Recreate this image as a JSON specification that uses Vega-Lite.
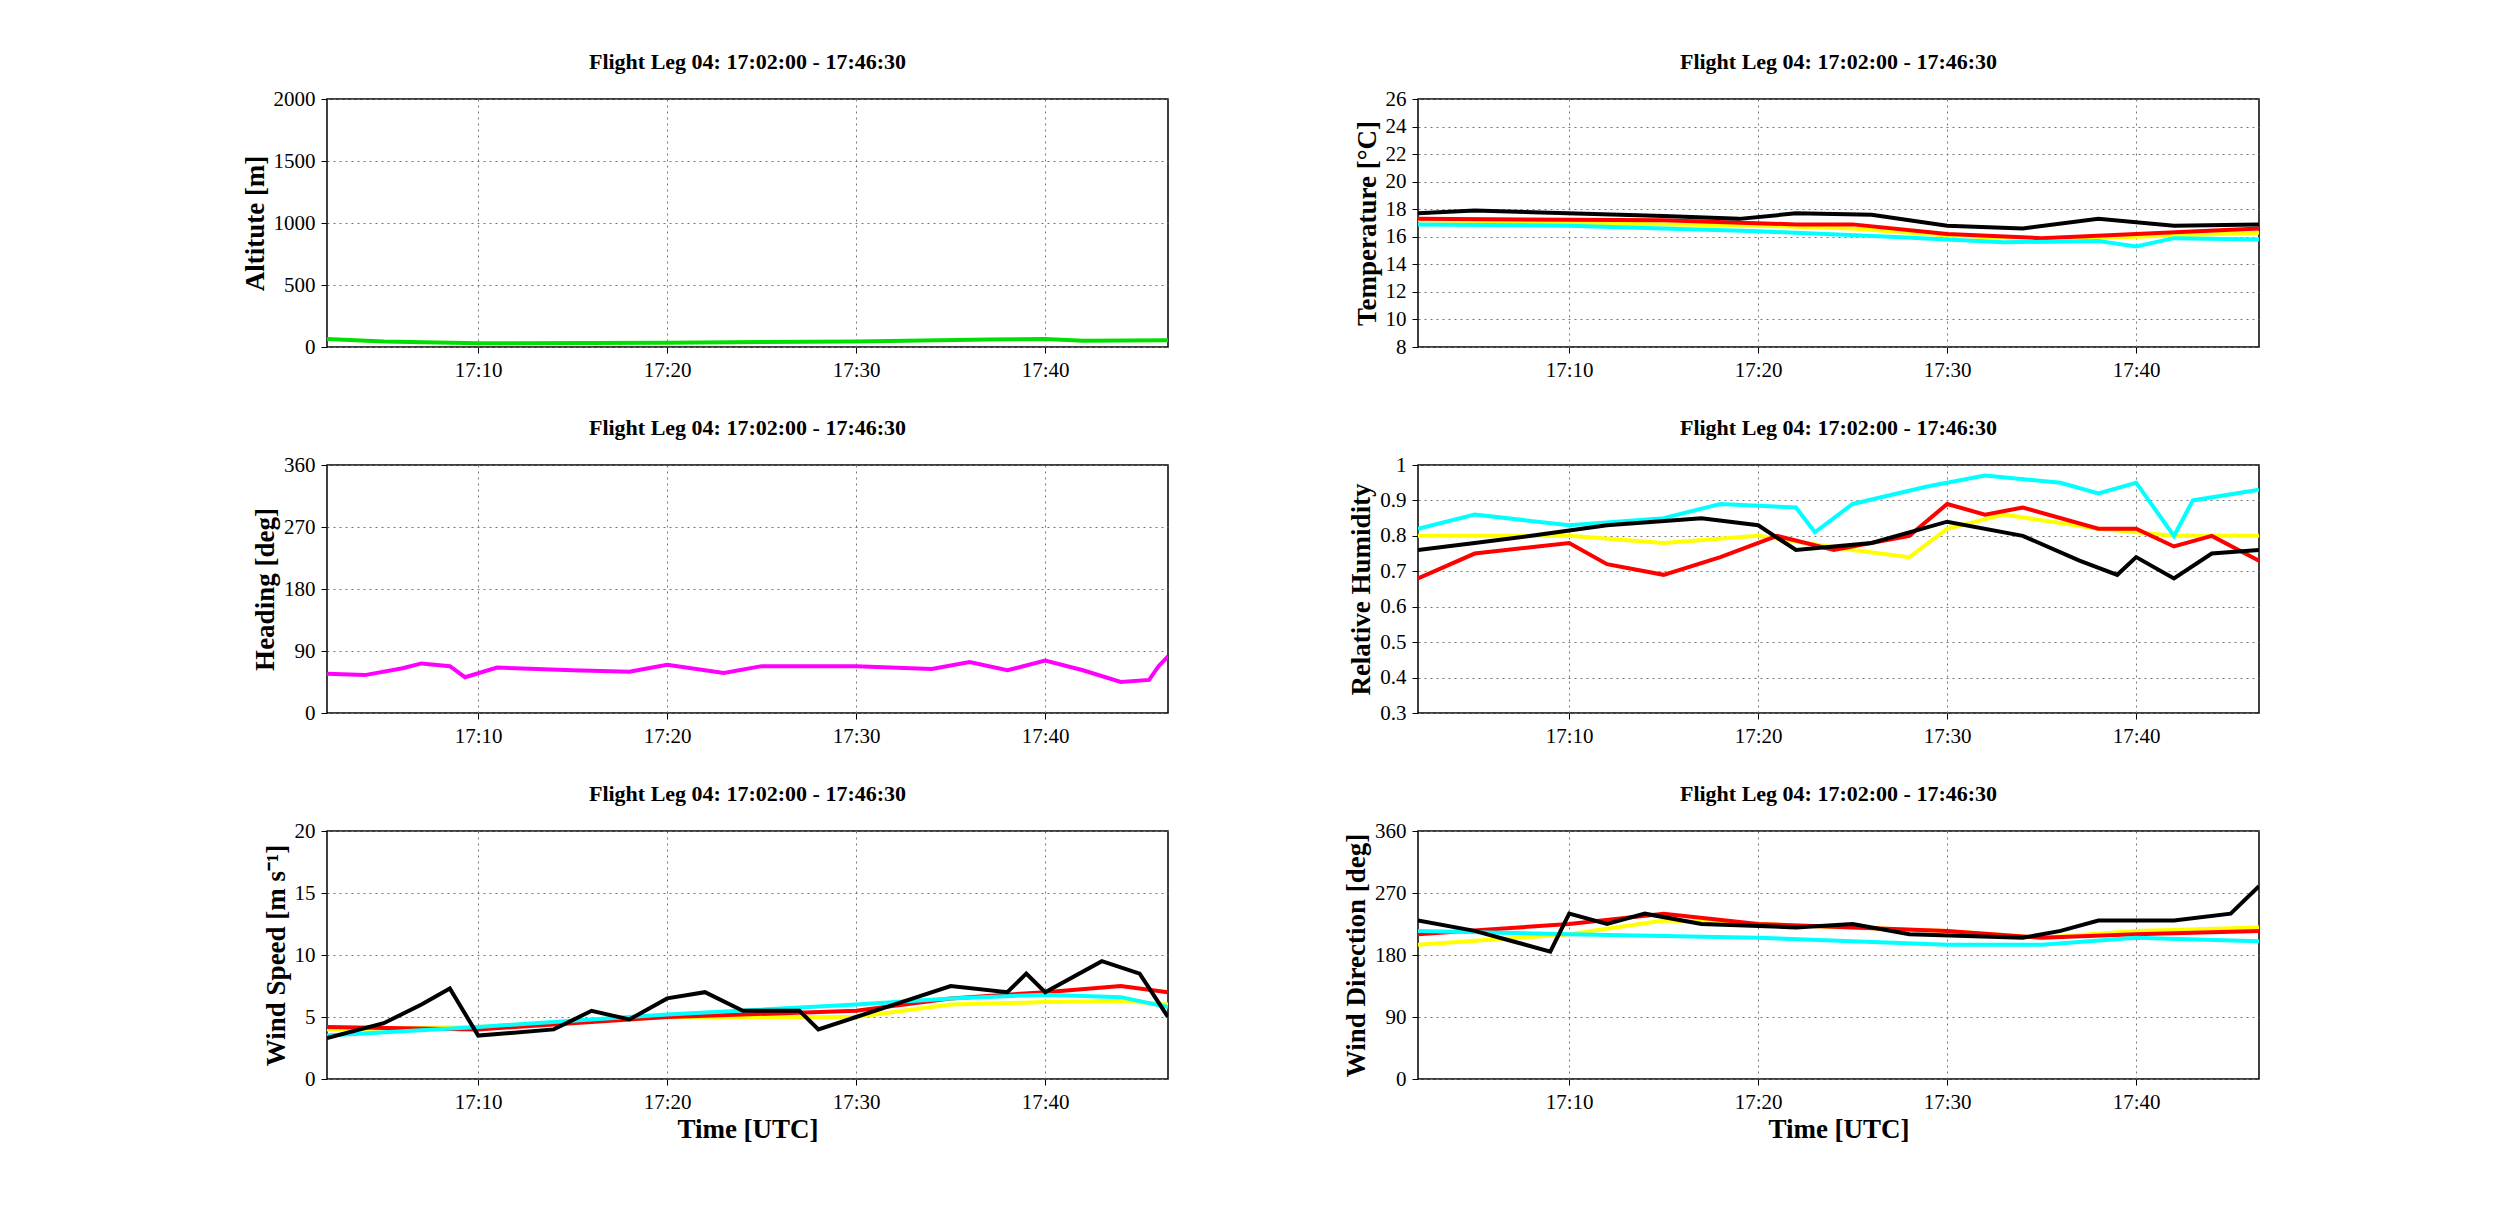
{
  "$schema": "https://vega.github.io/schema/vega-lite/v6.json",
  "background": "white",
  "padding": {"left": 240, "top": 50, "right": 10, "bottom": 10},
  "spacing": {"row": 35, "column": 172},
  "config": {
    "font": "Liberation Serif",
    "view": {"stroke": "black", "strokeWidth": 1.5},
    "title": {"fontSize": 22, "fontWeight": "bold", "font": "Liberation Serif", "offset": 14},
    "axis": {"labelFont": "Liberation Serif", "titleFont": "Liberation Serif", "labelFontSize": 21, "titleFontSize": 27, "titleFontWeight": "bold", "gridDash": [2, 4], "gridColor": "#777", "gridOpacity": 1, "domain": false, "tickColor": "black", "tickSize": 6, "labelColor": "black", "titleColor": "black", "labelPadding": 6, "format": "~r"},
    "line": {"strokeWidth": 4}
  },
  "data": {"values": [
    {"p":"alt","s":"green","t":2,"v":65},{"p":"alt","s":"green","t":5,"v":45},{"p":"alt","s":"green","t":10,"v":30},{"p":"alt","s":"green","t":20,"v":35},{"p":"alt","s":"green","t":30,"v":45},{"p":"alt","s":"green","t":37,"v":60},{"p":"alt","s":"green","t":40,"v":65},{"p":"alt","s":"green","t":42,"v":50},{"p":"alt","s":"green","t":46.5,"v":55},
    {"p":"hdg","s":"magenta","t":2,"v":57},{"p":"hdg","s":"magenta","t":4,"v":55},{"p":"hdg","s":"magenta","t":6,"v":65},{"p":"hdg","s":"magenta","t":7,"v":72},{"p":"hdg","s":"magenta","t":8.5,"v":68},{"p":"hdg","s":"magenta","t":9.3,"v":52},{"p":"hdg","s":"magenta","t":11,"v":66},{"p":"hdg","s":"magenta","t":15,"v":62},{"p":"hdg","s":"magenta","t":18,"v":60},{"p":"hdg","s":"magenta","t":20,"v":70},{"p":"hdg","s":"magenta","t":23,"v":58},{"p":"hdg","s":"magenta","t":25,"v":68},{"p":"hdg","s":"magenta","t":30,"v":68},{"p":"hdg","s":"magenta","t":34,"v":64},{"p":"hdg","s":"magenta","t":36,"v":74},{"p":"hdg","s":"magenta","t":38,"v":62},{"p":"hdg","s":"magenta","t":40,"v":76},{"p":"hdg","s":"magenta","t":42,"v":62},{"p":"hdg","s":"magenta","t":44,"v":45},{"p":"hdg","s":"magenta","t":45.5,"v":48},{"p":"hdg","s":"magenta","t":46,"v":68},{"p":"hdg","s":"magenta","t":46.5,"v":82},
    {"p":"tmp","s":"yellow","t":2,"v":17.2},{"p":"tmp","s":"yellow","t":10,"v":17.0},{"p":"tmp","s":"yellow","t":20,"v":16.8},{"p":"tmp","s":"yellow","t":25,"v":16.6},{"p":"tmp","s":"yellow","t":30,"v":16.1},{"p":"tmp","s":"yellow","t":35,"v":15.8},{"p":"tmp","s":"yellow","t":40,"v":16.0},{"p":"tmp","s":"yellow","t":46.5,"v":16.3},
    {"p":"tmp","s":"red","t":2,"v":17.3},{"p":"tmp","s":"red","t":15,"v":17.2},{"p":"tmp","s":"red","t":22,"v":16.9},{"p":"tmp","s":"red","t":25,"v":16.9},{"p":"tmp","s":"red","t":30,"v":16.2},{"p":"tmp","s":"red","t":35,"v":15.9},{"p":"tmp","s":"red","t":40,"v":16.2},{"p":"tmp","s":"red","t":46.5,"v":16.6},
    {"p":"tmp","s":"cyan","t":2,"v":16.9},{"p":"tmp","s":"cyan","t":10,"v":16.8},{"p":"tmp","s":"cyan","t":20,"v":16.4},{"p":"tmp","s":"cyan","t":27,"v":16.0},{"p":"tmp","s":"cyan","t":33,"v":15.6},{"p":"tmp","s":"cyan","t":38,"v":15.7},{"p":"tmp","s":"cyan","t":40,"v":15.3},{"p":"tmp","s":"cyan","t":42,"v":15.9},{"p":"tmp","s":"cyan","t":46.5,"v":15.8},
    {"p":"tmp","s":"black","t":2,"v":17.7},{"p":"tmp","s":"black","t":5,"v":17.9},{"p":"tmp","s":"black","t":15,"v":17.5},{"p":"tmp","s":"black","t":19,"v":17.3},{"p":"tmp","s":"black","t":22,"v":17.7},{"p":"tmp","s":"black","t":26,"v":17.6},{"p":"tmp","s":"black","t":30,"v":16.8},{"p":"tmp","s":"black","t":34,"v":16.6},{"p":"tmp","s":"black","t":38,"v":17.3},{"p":"tmp","s":"black","t":42,"v":16.8},{"p":"tmp","s":"black","t":46.5,"v":16.9},
    {"p":"rh","s":"yellow","t":2,"v":0.8},{"p":"rh","s":"yellow","t":10,"v":0.8},{"p":"rh","s":"yellow","t":15,"v":0.78},{"p":"rh","s":"yellow","t":20,"v":0.8},{"p":"rh","s":"yellow","t":25,"v":0.76},{"p":"rh","s":"yellow","t":28,"v":0.74},{"p":"rh","s":"yellow","t":30,"v":0.82},{"p":"rh","s":"yellow","t":33,"v":0.86},{"p":"rh","s":"yellow","t":38,"v":0.82},{"p":"rh","s":"yellow","t":42,"v":0.8},{"p":"rh","s":"yellow","t":46.5,"v":0.8},
    {"p":"rh","s":"red","t":2,"v":0.68},{"p":"rh","s":"red","t":5,"v":0.75},{"p":"rh","s":"red","t":10,"v":0.78},{"p":"rh","s":"red","t":12,"v":0.72},{"p":"rh","s":"red","t":15,"v":0.69},{"p":"rh","s":"red","t":18,"v":0.74},{"p":"rh","s":"red","t":21,"v":0.8},{"p":"rh","s":"red","t":24,"v":0.76},{"p":"rh","s":"red","t":28,"v":0.8},{"p":"rh","s":"red","t":30,"v":0.89},{"p":"rh","s":"red","t":32,"v":0.86},{"p":"rh","s":"red","t":34,"v":0.88},{"p":"rh","s":"red","t":38,"v":0.82},{"p":"rh","s":"red","t":40,"v":0.82},{"p":"rh","s":"red","t":42,"v":0.77},{"p":"rh","s":"red","t":44,"v":0.8},{"p":"rh","s":"red","t":46.5,"v":0.73},
    {"p":"rh","s":"cyan","t":2,"v":0.82},{"p":"rh","s":"cyan","t":5,"v":0.86},{"p":"rh","s":"cyan","t":10,"v":0.83},{"p":"rh","s":"cyan","t":15,"v":0.85},{"p":"rh","s":"cyan","t":18,"v":0.89},{"p":"rh","s":"cyan","t":22,"v":0.88},{"p":"rh","s":"cyan","t":23,"v":0.81},{"p":"rh","s":"cyan","t":25,"v":0.89},{"p":"rh","s":"cyan","t":29,"v":0.94},{"p":"rh","s":"cyan","t":32,"v":0.97},{"p":"rh","s":"cyan","t":36,"v":0.95},{"p":"rh","s":"cyan","t":38,"v":0.92},{"p":"rh","s":"cyan","t":40,"v":0.95},{"p":"rh","s":"cyan","t":42,"v":0.8},{"p":"rh","s":"cyan","t":43,"v":0.9},{"p":"rh","s":"cyan","t":46.5,"v":0.93},
    {"p":"rh","s":"black","t":2,"v":0.76},{"p":"rh","s":"black","t":5,"v":0.78},{"p":"rh","s":"black","t":8,"v":0.8},{"p":"rh","s":"black","t":12,"v":0.83},{"p":"rh","s":"black","t":17,"v":0.85},{"p":"rh","s":"black","t":20,"v":0.83},{"p":"rh","s":"black","t":22,"v":0.76},{"p":"rh","s":"black","t":26,"v":0.78},{"p":"rh","s":"black","t":30,"v":0.84},{"p":"rh","s":"black","t":34,"v":0.8},{"p":"rh","s":"black","t":37,"v":0.73},{"p":"rh","s":"black","t":39,"v":0.69},{"p":"rh","s":"black","t":40,"v":0.74},{"p":"rh","s":"black","t":42,"v":0.68},{"p":"rh","s":"black","t":44,"v":0.75},{"p":"rh","s":"black","t":46.5,"v":0.76},
    {"p":"ws","s":"yellow","t":2,"v":4.0},{"p":"ws","s":"yellow","t":10,"v":4.2},{"p":"ws","s":"yellow","t":20,"v":5.0},{"p":"ws","s":"yellow","t":30,"v":5.0},{"p":"ws","s":"yellow","t":35,"v":6.0},{"p":"ws","s":"yellow","t":40,"v":6.2},{"p":"ws","s":"yellow","t":44,"v":6.3},{"p":"ws","s":"yellow","t":46.5,"v":6.0},
    {"p":"ws","s":"red","t":2,"v":4.2},{"p":"ws","s":"red","t":10,"v":4.0},{"p":"ws","s":"red","t":20,"v":5.0},{"p":"ws","s":"red","t":30,"v":5.5},{"p":"ws","s":"red","t":35,"v":6.5},{"p":"ws","s":"red","t":40,"v":7.0},{"p":"ws","s":"red","t":44,"v":7.5},{"p":"ws","s":"red","t":46.5,"v":7.0},
    {"p":"ws","s":"cyan","t":2,"v":3.5},{"p":"ws","s":"cyan","t":10,"v":4.2},{"p":"ws","s":"cyan","t":20,"v":5.2},{"p":"ws","s":"cyan","t":30,"v":6.0},{"p":"ws","s":"cyan","t":35,"v":6.5},{"p":"ws","s":"cyan","t":40,"v":6.8},{"p":"ws","s":"cyan","t":44,"v":6.6},{"p":"ws","s":"cyan","t":46.5,"v":5.8},
    {"p":"ws","s":"black","t":2,"v":3.3},{"p":"ws","s":"black","t":5,"v":4.5},{"p":"ws","s":"black","t":7,"v":6.0},{"p":"ws","s":"black","t":8.5,"v":7.3},{"p":"ws","s":"black","t":10,"v":3.5},{"p":"ws","s":"black","t":14,"v":4.0},{"p":"ws","s":"black","t":16,"v":5.5},{"p":"ws","s":"black","t":18,"v":4.8},{"p":"ws","s":"black","t":20,"v":6.5},{"p":"ws","s":"black","t":22,"v":7.0},{"p":"ws","s":"black","t":24,"v":5.5},{"p":"ws","s":"black","t":27,"v":5.5},{"p":"ws","s":"black","t":28,"v":4.0},{"p":"ws","s":"black","t":30,"v":5.0},{"p":"ws","s":"black","t":32,"v":6.0},{"p":"ws","s":"black","t":35,"v":7.5},{"p":"ws","s":"black","t":38,"v":7.0},{"p":"ws","s":"black","t":39,"v":8.5},{"p":"ws","s":"black","t":40,"v":7.0},{"p":"ws","s":"black","t":43,"v":9.5},{"p":"ws","s":"black","t":45,"v":8.5},{"p":"ws","s":"black","t":46.5,"v":5.0},
    {"p":"wd","s":"yellow","t":2,"v":195},{"p":"wd","s":"yellow","t":10,"v":210},{"p":"wd","s":"yellow","t":15,"v":230},{"p":"wd","s":"yellow","t":20,"v":225},{"p":"wd","s":"yellow","t":30,"v":215},{"p":"wd","s":"yellow","t":35,"v":205},{"p":"wd","s":"yellow","t":40,"v":215},{"p":"wd","s":"yellow","t":46.5,"v":220},
    {"p":"wd","s":"red","t":2,"v":210},{"p":"wd","s":"red","t":10,"v":225},{"p":"wd","s":"red","t":15,"v":240},{"p":"wd","s":"red","t":20,"v":225},{"p":"wd","s":"red","t":30,"v":215},{"p":"wd","s":"red","t":35,"v":205},{"p":"wd","s":"red","t":40,"v":210},{"p":"wd","s":"red","t":46.5,"v":215},
    {"p":"wd","s":"cyan","t":2,"v":215},{"p":"wd","s":"cyan","t":10,"v":210},{"p":"wd","s":"cyan","t":20,"v":205},{"p":"wd","s":"cyan","t":30,"v":195},{"p":"wd","s":"cyan","t":35,"v":195},{"p":"wd","s":"cyan","t":40,"v":205},{"p":"wd","s":"cyan","t":46.5,"v":200},
    {"p":"wd","s":"black","t":2,"v":230},{"p":"wd","s":"black","t":5,"v":215},{"p":"wd","s":"black","t":7,"v":200},{"p":"wd","s":"black","t":9,"v":185},{"p":"wd","s":"black","t":10,"v":240},{"p":"wd","s":"black","t":12,"v":225},{"p":"wd","s":"black","t":14,"v":240},{"p":"wd","s":"black","t":17,"v":225},{"p":"wd","s":"black","t":22,"v":220},{"p":"wd","s":"black","t":25,"v":225},{"p":"wd","s":"black","t":28,"v":210},{"p":"wd","s":"black","t":34,"v":205},{"p":"wd","s":"black","t":36,"v":215},{"p":"wd","s":"black","t":38,"v":230},{"p":"wd","s":"black","t":42,"v":230},{"p":"wd","s":"black","t":45,"v":240},{"p":"wd","s":"black","t":46.5,"v":280}
  ]},
  "columns": 2,
  "concat": [
    {"title": "Flight Leg 04: 17:02:00 - 17:46:30", "width": 841, "height": 248, "transform": [{"filter": "datum.p == 'alt'"}], "mark": {"type": "line", "clip": true},
     "encoding": {"x": {"field": "t", "type": "quantitative", "scale": {"domain": [2, 46.5], "nice": false, "zero": false}, "axis": {"values": [10, 20, 30, 40], "labelExpr": "'17:' + datum.value", "title": null}},
      "y": {"field": "v", "type": "quantitative", "scale": {"domain": [0, 2000], "nice": false}, "axis": {"values": [0, 500, 1000, 1500, 2000], "format": "d", "title": "Altitute [m]"}},
      "color": {"field": "s", "type": "nominal", "scale": {"domain": ["green", "magenta", "yellow", "red", "cyan", "black"], "range": ["#00e000", "#ff00ff", "#ffff00", "#ff0000", "#00ffff", "#000000"]}, "legend": null}}},
    {"title": "Flight Leg 04: 17:02:00 - 17:46:30", "width": 841, "height": 248, "transform": [{"filter": "datum.p == 'tmp'"}], "mark": {"type": "line", "clip": true},
     "encoding": {"x": {"field": "t", "type": "quantitative", "scale": {"domain": [2, 46.5], "nice": false, "zero": false}, "axis": {"values": [10, 20, 30, 40], "labelExpr": "'17:' + datum.value", "title": null}},
      "y": {"field": "v", "type": "quantitative", "scale": {"domain": [8, 26], "nice": false, "zero": false}, "axis": {"values": [8, 10, 12, 14, 16, 18, 20, 22, 24, 26], "format": "d", "title": "Temperature [°C]"}},
      "color": {"field": "s", "type": "nominal", "legend": null}}},
    {"title": "Flight Leg 04: 17:02:00 - 17:46:30", "width": 841, "height": 248, "transform": [{"filter": "datum.p == 'hdg'"}], "mark": {"type": "line", "clip": true},
     "encoding": {"x": {"field": "t", "type": "quantitative", "scale": {"domain": [2, 46.5], "nice": false, "zero": false}, "axis": {"values": [10, 20, 30, 40], "labelExpr": "'17:' + datum.value", "title": null}},
      "y": {"field": "v", "type": "quantitative", "scale": {"domain": [0, 360], "nice": false}, "axis": {"values": [0, 90, 180, 270, 360], "format": "d", "title": "Heading [deg]"}},
      "color": {"field": "s", "type": "nominal", "legend": null}}},
    {"title": "Flight Leg 04: 17:02:00 - 17:46:30", "width": 841, "height": 248, "transform": [{"filter": "datum.p == 'rh'"}], "mark": {"type": "line", "clip": true},
     "encoding": {"x": {"field": "t", "type": "quantitative", "scale": {"domain": [2, 46.5], "nice": false, "zero": false}, "axis": {"values": [10, 20, 30, 40], "labelExpr": "'17:' + datum.value", "title": null}},
      "y": {"field": "v", "type": "quantitative", "scale": {"domain": [0.3, 1], "nice": false, "zero": false}, "axis": {"values": [0.3, 0.4, 0.5, 0.6, 0.7, 0.8, 0.9, 1], "format": "~r", "title": "Relative Humidity"}},
      "color": {"field": "s", "type": "nominal", "legend": null}}},
    {"title": "Flight Leg 04: 17:02:00 - 17:46:30", "width": 841, "height": 248, "transform": [{"filter": "datum.p == 'ws'"}], "mark": {"type": "line", "clip": true},
     "encoding": {"x": {"field": "t", "type": "quantitative", "scale": {"domain": [2, 46.5], "nice": false, "zero": false}, "axis": {"values": [10, 20, 30, 40], "labelExpr": "'17:' + datum.value", "title": "Time [UTC]"}},
      "y": {"field": "v", "type": "quantitative", "scale": {"domain": [0, 20], "nice": false}, "axis": {"values": [0, 5, 10, 15, 20], "format": "d", "title": "Wind Speed [m s⁻¹]"}},
      "color": {"field": "s", "type": "nominal", "legend": null}}},
    {"title": "Flight Leg 04: 17:02:00 - 17:46:30", "width": 841, "height": 248, "transform": [{"filter": "datum.p == 'wd'"}], "mark": {"type": "line", "clip": true},
     "encoding": {"x": {"field": "t", "type": "quantitative", "scale": {"domain": [2, 46.5], "nice": false, "zero": false}, "axis": {"values": [10, 20, 30, 40], "labelExpr": "'17:' + datum.value", "title": "Time [UTC]"}},
      "y": {"field": "v", "type": "quantitative", "scale": {"domain": [0, 360], "nice": false}, "axis": {"values": [0, 90, 180, 270, 360], "format": "d", "title": "Wind Direction [deg]"}},
      "color": {"field": "s", "type": "nominal", "legend": null}}}
  ]
}
